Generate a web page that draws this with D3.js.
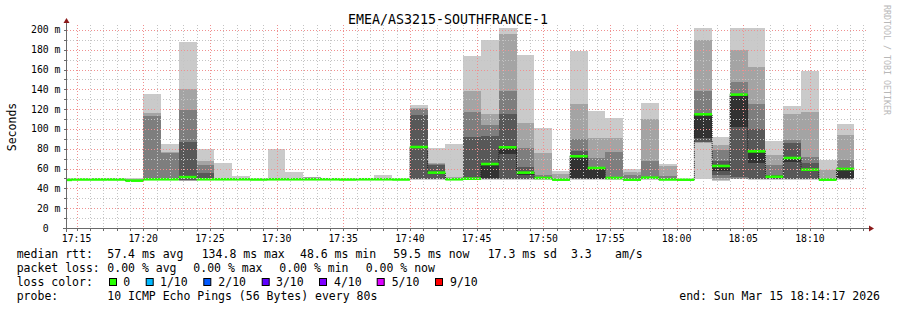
<!DOCTYPE html>
<html><head><meta charset="utf-8">
<script src="https://cdn.jsdelivr.net/npm/d3@7"></script>
<style>
body{margin:0;background:#fff;}
svg text{font-family:"DejaVu Sans Mono",monospace;}
</style></head><body><svg id="c" width="897" height="310"></svg>
<script>
// ---------- data ----------
const title = "EMEA/AS3215-SOUTHFRANCE-1";
const rangeStart = "17:14:17", rangeEnd = "18:14:17";
const stepSeconds = 80;
const barStarts = ["17:13:20","17:14:40","17:16:00","17:17:20","17:18:40","17:20:00","17:21:20","17:22:40","17:24:00","17:25:20",
 "17:26:40","17:28:00","17:29:20","17:30:40","17:32:00","17:33:20","17:34:40","17:36:00","17:37:20","17:38:40",
 "17:40:00","17:41:20","17:42:40","17:44:00","17:45:20","17:46:40","17:48:00","17:49:20","17:50:40","17:52:00",
 "17:53:20","17:54:40","17:56:00","17:57:20","17:58:40","18:00:00","18:01:20","18:02:40","18:04:00","18:05:20",
 "18:06:40","18:08:00","18:09:20","18:10:40","18:12:00"];
const medians = [48.6,49.0,49.0,49.0,47.8,49.2,49.2,51.4,49.2,49.2,
 49.2,49.0,49.2,49.2,49.2,49.2,49.0,49.2,49.2,49.0,
 81.8,55.9,49.2,49.8,64.6,81.5,55.9,50.5,48.8,72.4,
 60.6,50.5,48.8,50.8,49.0,48.8,114.8,62.6,134.7,77.4,
 51.8,70.7,58.9,48.8,59.6];
// 10 sorted ping RTTs (ms) per step
const pings = [
 [48.5,48.5,48.6,48.6,48.6,48.6,48.7,48.8,49.5,50.5],
 [48.6,48.7,48.8,48.9,49.0,49.0,49.1,49.2,49.3,49.4],
 [48.6,48.7,48.8,48.9,49.0,49.0,49.1,49.2,49.6,50.6],
 [48.6,48.7,48.8,48.9,49.0,49.1,49.1,49.3,49.6,50.5],
 [47.2,47.4,47.6,47.8,47.8,47.9,48.2,48.4,49.5,50.5],
 [48.6,48.8,49.0,49.1,49.2,49.2,49.4,113.0,116.5,135.4],
 [48.6,48.8,49.0,49.1,49.2,49.2,49.4,75.8,76.8,84.8],
 [47.6,47.8,48.0,48.2,51.0,52.0,86.9,119.2,140.1,187.9],
 [48.6,48.8,49.0,49.1,49.2,49.3,55.6,63.3,67.7,79.8],
 [48.6,48.8,49.0,49.1,49.2,49.3,49.4,49.8,50.5,65.5],
 [48.6,48.8,49.0,49.1,49.2,49.3,49.4,49.6,49.9,52.5],
 [48.6,48.7,48.8,48.9,49.0,49.0,49.1,49.2,49.3,49.4],
 [48.6,48.8,49.0,49.1,49.2,49.3,49.4,49.6,50.0,79.8],
 [48.6,48.8,49.0,49.1,49.2,49.3,49.4,49.6,50.0,56.6],
 [48.6,48.8,49.0,49.1,49.2,49.3,49.4,49.6,51.0,51.6],
 [48.6,48.8,49.0,49.1,49.2,49.3,49.4,49.6,49.9,50.5],
 [48.6,48.7,48.8,48.9,49.0,49.0,49.1,49.2,49.3,49.4],
 [48.6,48.8,49.0,49.1,49.2,49.3,49.4,49.6,49.9,50.5],
 [48.6,48.8,49.0,49.1,49.2,49.3,49.4,49.6,50.0,53.5],
 [48.6,48.7,48.8,48.9,49.0,49.0,49.1,49.2,49.3,49.4],
 [48.8,49.0,49.1,49.2,81.5,82.0,113.8,119.9,121.2,124.2],
 [48.8,49.0,49.1,49.2,55.5,56.2,63.3,64.6,65.7,80.8],
 [48.6,48.8,49.0,49.1,49.2,49.3,49.4,49.6,51.5,84.8],
 [48.8,49.0,49.2,49.4,49.6,50.0,91.9,117.2,138.4,173.7],
 [48.8,49.2,49.5,49.8,50.0,64.6,92.9,103.7,115.2,189.9],
 [48.8,49.2,49.5,49.8,75.0,81.5,115.2,138.4,196.3,202.0],
 [48.8,49.0,49.1,49.2,53.2,55.9,61.6,80.8,106.4,175.0],
 [48.8,49.0,49.2,49.5,50.2,50.8,51.5,53.2,75.8,101.0],
 [48.4,48.5,48.6,48.7,48.8,48.9,49.0,49.2,54.9,57.6],
 [48.8,49.2,49.5,49.8,50.5,72.4,78.1,89.9,125.3,178.8],
 [48.8,49.0,49.2,49.4,49.6,60.6,60.8,70.7,90.9,118.2],
 [48.8,49.0,49.2,49.5,50.3,50.7,51.0,76.8,90.9,110.8],
 [48.4,48.5,48.6,48.7,48.8,48.9,49.2,53.2,56.6,59.9],
 [48.8,49.0,49.3,49.6,50.5,51.0,51.5,67.4,110.1,126.3],
 [48.6,48.7,48.8,48.9,49.0,49.1,49.3,52.5,62.6,64.6],
 [48.4,48.5,48.6,48.7,48.8,48.8,48.9,49.0,49.1,49.2],
 [49.0,85.5,87.0,87.2,91.2,114.8,115.0,138.4,189.6,202.0],
 [47.5,48.5,50.0,53.2,57.6,62.6,67.7,79.1,84.2,91.9],
 [49.3,49.5,49.8,51.5,102.0,134.7,135.7,147.5,179.8,202.0],
 [48.0,49.0,49.5,49.8,66.0,77.4,100.0,125.3,162.6,202.0],
 [48.8,49.0,49.1,49.2,51.5,52.0,53.5,63.3,73.4,87.9],
 [48.8,49.0,49.2,49.5,67.0,70.7,85.9,88.9,115.2,123.2],
 [48.8,49.0,49.2,49.5,57.3,58.9,65.7,71.7,117.2,158.6],
 [48.4,48.5,48.6,48.7,48.8,48.9,49.0,49.5,58.9,69.0],
 [48.8,49.0,49.3,49.8,50.0,59.6,59.9,69.0,93.6,105.0]
];
const yMax = 205;
const yTickValues = [0,20,40,60,80,100,120,140,160,180,200];
const yTickLabels = ["0","20 m","40 m","60 m","80 m","100 m","120 m","140 m","160 m","180 m","200 m"];
const xTickLabels = ["17:15","17:20","17:25","17:30","17:35","17:40","17:45","17:50","17:55","18:00","18:05","18:10"];
const smokeShades = ["#cacaca","#a4a4a4","#7e7e7e","#585858","#323232"];
const lossLabels = ["0","1/10","2/10","3/10","4/10","5/10","9/10"];
const lossColors = ["#26ff00","#00b8ff","#0059ff","#5e00ff","#7e00ff","#dd00ff","#ff0000"];
const rttStats = [["median rtt:",16.7],["57.4 ms avg",107.3],["134.8 ms max",201.7],["48.6 ms min",300],["59.5 ms now",393.3],["17.3 ms sd",487.7],["3.3",571],["am/s",615]];
const lossStats = [["packet loss:",16.7],["0.00 % avg",107.3],["0.00 % max",193.3],["0.00 % min",279.3],["0.00 % now",365.7]];
const probeText = "10 ICMP Echo Pings (56 Bytes) every 80s";
const endText = "end: Sun Mar 15 18:14:17 2026";

// ---------- drawing ----------
const svg = d3.select("#c");
const parse = s => { const [h,m,sec] = s.split(":").map(Number); return new Date(2026,2,15,h,m,sec); };
const L = 67, R = 867, B = 228, T = 25;
const x = d3.scaleTime().domain([parse(rangeStart), parse(rangeEnd)]).range([L, R]);
const y = d3.scaleLinear().domain([0, yMax]).range([B, T]);
const stepMs = stepSeconds*1000;

svg.append("rect").attr("width",897).attr("height",310).attr("fill","#fff");
svg.append("defs").append("clipPath").attr("id","pc").append("rect")
  .attr("x",L).attr("y",T).attr("width",R-L).attr("height",B-T);

const plot = svg.append("g").attr("clip-path","url(#pc)");
const bars = barStarts.map((s,i)=>({t0:parse(s), t1:new Date(parse(s).getTime()+stepMs), p:pings[i], m:medians[i]}));

// smoke
bars.forEach(b=>{
  const x0 = x(b.t0), x1 = x(b.t1);
  for(let i=0;i<5;i++){
    const lo = b.p[i], hi = b.p[9-i];
    if(hi-lo <= 0) continue;
    plot.append("rect").attr("x",x0).attr("width",x1-x0)
      .attr("y",y(hi)).attr("height",y(lo)-y(hi))
      .attr("fill",smokeShades[i]).attr("shape-rendering","crispEdges");
  }
});

// grid on top
const gridG = svg.append("g").attr("stroke-dasharray","1,2").attr("shape-rendering","crispEdges");
d3.range(10, 201, 10).forEach(v=>{
  gridG.append("line").attr("x1",L).attr("x2",R).attr("y1",Math.round(y(v))+0.5).attr("y2",Math.round(y(v))+0.5)
    .attr("stroke", v%20===0 ? "#f09090" : "#c4c4c4");
});
const t0 = parse("17:15:00");
for(let k=0;k<60;k++){
  const t = new Date(t0.getTime()+k*60000);
  if(t > parse(rangeEnd)) break;
  const xx = Math.round(x(t))+0.5;
  gridG.append("line").attr("x1",xx).attr("x2",xx).attr("y1",T).attr("y2",B)
    .attr("stroke", k%5===0 ? "#f09090" : "#c4c4c4");
}

// median step line
const stepPts = bars.map(b=>[x(b.t0), y(b.m)]);
stepPts.push([x(bars[bars.length-1].t1), y(bars[bars.length-1].m)]);
plot.append("path").attr("d", d3.line().curve(d3.curveStepAfter)(stepPts))
  .attr("fill","none").attr("stroke","#202020").attr("stroke-width",1).attr("stroke-dasharray","1,1");

// median (loss colour) bars
bars.forEach(b=>{
  plot.append("rect").attr("x",x(b.t0)).attr("width",x(b.t1)-x(b.t0))
    .attr("y",y(b.m)-1.3).attr("height",2.6).attr("fill",lossColors[0]);
});

// axes
const axisC = "#6a6a6a";
svg.append("line").attr("x1",L-4).attr("x2",R+2).attr("y1",B+0.5).attr("y2",B+0.5).attr("stroke",axisC);
svg.append("line").attr("x1",L-0.5).attr("x2",L-0.5).attr("y1",B+4).attr("y2",T-3).attr("stroke",axisC);
svg.append("path").attr("d",`M${L-3.5},${T-2} L${L-0.5},${T-7} L${L+2.5},${T-2} Z`).attr("fill","#8b1a1a");
svg.append("path").attr("d",`M${R+2},${B-2.5} L${R+7},${B+0.5} L${R+2},${B+3.5} Z`).attr("fill","#8b1a1a");
// tick marks
d3.range(0,201,10).forEach(v=>{
  const yy = Math.round(y(v))+0.5;
  svg.append("line").attr("x1",L-3).attr("x2",L).attr("y1",yy).attr("y2",yy).attr("stroke",axisC);
});
for(let k=0;k<60;k++){
  const xx = Math.round(x(new Date(t0.getTime()+k*60000)))+0.5;
  svg.append("line").attr("x1",xx).attr("x2",xx).attr("y1",B).attr("y2",B+3).attr("stroke",axisC);
}

const fs = 9.8, cw = fs*0.602;
yTickValues.forEach((v,i)=>{
  const lbl = yTickLabels[i];
  const xr = lbl.endsWith(" m") ? 60.5 : 60.5-2*cw;
  svg.append("text").attr("x",xr).attr("y",y(v)+3.5).attr("text-anchor","end")
    .attr("font-size",fs).attr("fill","#000").text(lbl);
});
xTickLabels.forEach(l=>{
  svg.append("text").attr("x",x(parse(l+":00"))).attr("y",241.5).attr("text-anchor","middle")
    .attr("font-size",fs).attr("fill","#000").text(l);
});

// title & axis label
svg.append("text").attr("x",448).attr("y",24).attr("text-anchor","middle").attr("font-size",13.3).text(title);
svg.append("text").attr("transform","translate(15.5,127) rotate(-90)").attr("text-anchor","middle")
  .attr("font-size",11.5).text("Seconds");
svg.append("text").attr("transform","translate(883.5,5) rotate(90)").attr("font-size",8.3)
  .attr("fill","#b8b8b8").text("RRDTOOL / TOBI OETIKER");

// legend
const lf = 11.5;
rttStats.forEach(([s,xx])=>svg.append("text").attr("x",xx).attr("y",258).attr("font-size",lf).text(s));
lossStats.forEach(([s,xx])=>svg.append("text").attr("x",xx).attr("y",272).attr("font-size",lf).text(s));
svg.append("text").attr("x",16.7).attr("y",286).attr("font-size",lf).text("loss color:");
const sqX = [109,145.7,203.3,261.7,319,376.7,435];
const lblX = [123.3,160,218.3,276,334,391.7,450];
lossLabels.forEach((l,i)=>{
  svg.append("rect").attr("x",sqX[i]+0.5).attr("y",278.5).attr("width",7).attr("height",7)
    .attr("fill",lossColors[i]).attr("stroke","#000").attr("stroke-width",1);
  svg.append("text").attr("x",lblX[i]).attr("y",286).attr("font-size",lf).text(l);
});
svg.append("text").attr("x",16.7).attr("y",300).attr("font-size",lf).text("probe:");
svg.append("text").attr("x",107.3).attr("y",300).attr("font-size",lf).text(probeText);
svg.append("text").attr("x",880).attr("y",300).attr("text-anchor","end").attr("font-size",lf).text(endText);
</script></body></html>
